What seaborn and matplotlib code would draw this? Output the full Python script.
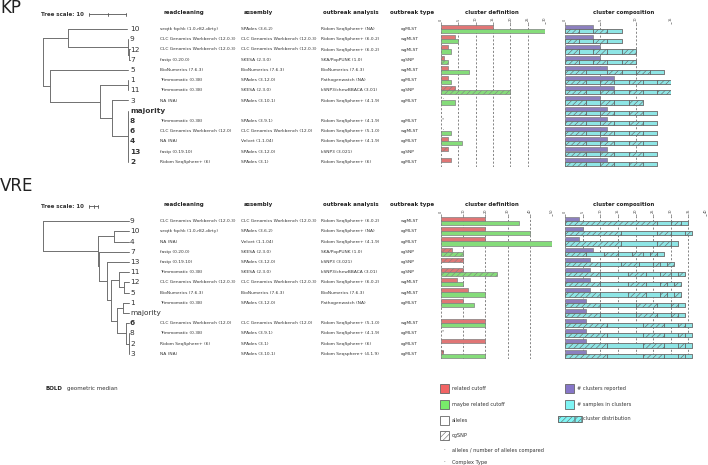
import numpy as np
import pandas as pd
import matplotlib
matplotlib.use("Agg")
import matplotlib.pyplot as plt
from matplotlib.patches import Rectangle
import seaborn as sns

sns.set_style("white")
plt.rcParams["font.family"] = ["DejaVu Sans"]
plt.rcParams["hatch.linewidth"] = 0.4

NaN = np.nan

# ---------------- KP data ----------------
KP_ROWS = ["10", "9", "12", "7", "5", "1", "11", "3", "majority", "8", "6", "4", "13", "2"]
KP_BOLD = ["majority", "8", "6", "4", "13", "2"]
KP_READ = ["seqtk fqchk (1.0-r82-dirty)", "CLC Genomics Workbench (12.0.3)", "CLC Genomics Workbench (12.0.3)",
           "fastp (0.20.0)", "BioNumerics (7.6.3)", "Trimmomatic (0.38)", "Trimmomatic (0.38)", "NA (NA)", "",
           "Trimmomatic (0.38)", "CLC Genomics Workbench (12.0)", "NA (NA)", "fastp (0.19.10)", "Ridom SeqSphere+ (6)"]
KP_ASM = ["SPAdes (3.6.2)", "CLC Genomics Workbench (12.0.3)", "CLC Genomics Workbench (12.0.3)", "SKESA (2.3.0)",
          "BioNumerics (7.6.3)", "SPAdes (3.12.0)", "SKESA (2.3.0)", "SPAdes (3.10.1)", "", "SPAdes (3.9.1)",
          "CLC Genomics Workbench (12.0)", "Velvet (1.1.04)", "SPAdes (3.12.0)", "SPAdes (3.1)"]
KP_ANA = ["Ridom SeqSphere+ (NA)", "Ridom SeqSphere+ (6.0.2)", "Ridom SeqSphere+ (6.0.2)", "SKA/PopPUNK (1.0)",
          "BioNumerics (7.6.3)", "Pathogenwatch (NA)", "kSNP3/chewBBACA (3.01)", "Ridom SeqSphere+ (4.1.9)", "",
          "Ridom SeqSphere+ (4.1.9)", "Ridom SeqSphere+ (5.1.0)", "Ridom SeqSphere+ (4.1.9)", "kSNP3 (3.021)",
          "Ridom SeqSphere+ (6)"]
KP_TYPE = ["cgMLST", "wgMLST", "wgMLST", "cgSNP", "wgMLST", "cgMLST", "cgSNP", "cgMLST", "",
           "cgMLST", "wgMLST", "cgMLST", "cgSNP", "cgMLST"]
KP_RELATED = [15, 4, 2, 1, 2, 2, 4, NaN, NaN, NaN, NaN, 2, 2, 3]
KP_MAYBE = [30, 5, 3, 2, 8, 3, 20, 4, NaN, NaN, 3, 6, NaN, NaN]
KP_MARKS = {"3": "'", "8": "*", "6": "'"}
KP_CLUSTERS = [4, 4, 5, 5, 6, 7, 7, 5, 6, 6, 6, 6, 6, 6]
KP_SAMPLES = [8, 8, 10, 10, 14, 15, 15, 11, 13, 13, 13, 13, 13, 13]
KP_DIST = [[2, 2, 2, 2], [2, 2, 2, 2], [2, 2, 2, 2, 2], [2, 2, 2, 2, 2], [3, 3, 2, 2, 2, 2],
           [3, 2, 2, 2, 2, 2, 2], [3, 2, 2, 2, 2, 2, 2], [3, 2, 2, 2, 2], [3, 2, 2, 2, 2, 2],
           [3, 2, 2, 2, 2, 2], [3, 2, 2, 2, 2, 2], [3, 2, 2, 2, 2, 2], [3, 2, 2, 2, 2, 2], [3, 2, 2, 2, 2, 2]]
# tree: list of (branch length, child); child is a leaf name or another list
KP_TREE = [
    (6.8, [(15.9, "10"), (16.2, [(0.1, "9"), (0.3, [(0.1, "12"), (0.1, "7")])])]),
    (1.9, [(21.1, "5"),
           (13.5, [(7.6, [(0.1, "1"), (0.1, "11")]),
                   (3.2, [(4.3, "3"),
                          (4.3, [(0, "majority"), (0, "8"), (0, "6"), (0, "4"), (0, "13"), (0, "2")])])])]),
]

# ---------------- VRE data ----------------
VRE_ROWS = ["9", "10", "4", "7", "13", "11", "12", "5", "1", "majority", "6", "8", "2", "3"]
VRE_BOLD = ["6"]
VRE_READ = ["CLC Genomics Workbench (12.0.3)", "seqtk fqchk (1.0-r82-dirty)", "NA (NA)", "fastp (0.20.0)",
            "fastp (0.19.10)", "Trimmomatic (0.38)", "CLC Genomics Workbench (12.0.3)", "BioNumerics (7.6.3)",
            "Trimmomatic (0.38)", "", "CLC Genomics Workbench (12.0)", "Trimmomatic (0.38)",
            "Ridom SeqSphere+ (6)", "NA (NA)"]
VRE_ASM = ["CLC Genomics Workbench (12.0.3)", "SPAdes (3.6.2)", "Velvet (1.1.04)", "SKESA (2.3.0)",
           "SPAdes (3.12.0)", "SKESA (2.3.0)", "CLC Genomics Workbench (12.0.3)", "BioNumerics (7.6.3)",
           "SPAdes (3.12.0)", "", "CLC Genomics Workbench (12.0)", "SPAdes (3.9.1)", "SPAdes (3.1)",
           "SPAdes (3.10.1)"]
VRE_ANA = ["Ridom SeqSphere+ (6.0.2)", "Ridom SeqSphere+ (NA)", "Ridom SeqSphere+ (4.1.9)", "SKA/PopPUNK (1.0)",
           "kSNP3 (3.021)", "kSNP3/chewBBACA (3.01)", "Ridom SeqSphere+ (6.0.2)", "BioNumerics (7.6.3)",
           "Pathogenwatch (NA)", "", "Ridom SeqSphere+ (5.1.0)", "Ridom SeqSphere+ (4.1.9)",
           "Ridom SeqSphere+ (6)", "Ridom Seqsphere+ (4.1.9)"]
VRE_TYPE = ["wgMLST", "cgMLST", "cgMLST", "cgSNP", "cgSNP", "cgSNP", "wgMLST", "wgMLST", "cgMLST", "",
            "wgMLST", "cgMLST", "cgMLST", "cgMLST"]
VRE_RELATED = [20, 20, 20, 5, 10, 10, 7, 12, 10, NaN, 20, NaN, 20, 1]
VRE_MAYBE = [35, 40, 50, 10, NaN, 25, 10, 20, 15, NaN, 20, NaN, NaN, 20]
VRE_MARKS = {"8": "*", "3": "*"}
VRE_CLUSTERS = [4, 5, 4, 8, 7, 7, 7, 7, 6, 6, 6, 6, 6, 6]
VRE_SAMPLES = [35, 36, 32, 28, 31, 34, 33, 33, 34, 34, 36, 36, 36, 36]
VRE_DIST = [[26, 4, 3, 2], [16, 10, 4, 4, 2], [16, 10, 4, 2], [6, 5, 4, 4, 3, 2, 2, 2],
            [10, 6, 5, 4, 2, 2, 2], [10, 8, 5, 4, 3, 2, 2], [10, 8, 5, 4, 2, 2, 2], [10, 8, 5, 4, 2, 2, 2],
            [10, 10, 6, 4, 2, 2], [10, 10, 6, 4, 2, 2], [12, 10, 6, 4, 2, 2], [12, 10, 6, 4, 2, 2],
            [12, 10, 6, 4, 2, 2], [12, 10, 6, 4, 2, 2]]
VRE_TREE = [
    (95.6, "9"),
    (61, [(17.8, [(16.7, "10"), (16.7, "4")]),
          (1.1, [(33, "7"),
                 (8.9, [(24.4, "13"),
                        (4.4, [(8.9, [(11, "11"), (5.6, [(5.6, "12"), (5.6, "5")])]),
                               (6.7, [(6.7, [(6.7, "1"), (6.7, "majority")]),
                                      (10, [(3.3, "6"), (3.3, [(0, "8"), (0, "2"), (0, "3")])])])])])])]),
]

RED = "#f26464"
GREEN = "#78ec6a"
PURPLE = "#8676c8"
CYAN = "#7ff4f4"
EDGE = "#808080"
TREE_COL = "#707070"
TXT = "#333333"
HATCH = "//////"

W, H = 708, 465
PITCH = 10.2
fig = plt.figure(figsize=(W / 100, H / 100), dpi=100)
bg = fig.add_axes([0, 0, 1, 1])
bg.set_xlim(0, W)
bg.set_ylim(H, 0)
bg.axis("off")


def panel_axes(x0, x1, top, n):
    h = n * PITCH
    ax = fig.add_axes([x0 / W, 1 - (top + h) / H, (x1 - x0) / W, h / H])
    ax.patch.set_alpha(0)
    return ax


def draw_tree(children, x, leaf_y, scale):
    ys = []
    for length, child in children:
        cx = x + length * scale
        if isinstance(child, str):
            cy = leaf_y[child]
        else:
            cy = draw_tree(child, cx, leaf_y, scale)
        bg.plot([x, cx], [cy, cy], color=TREE_COL, lw=0.7)
        ys.append(cy)
    bg.plot([x, x], [min(ys), max(ys)], color=TREE_COL, lw=0.7)
    return (ys[0] + ys[-1]) / 2


def style_panel(ax, n, xmax, step):
    ax.set_xlim(0, xmax)
    ax.set_ylim(n - 0.5, -0.5)
    ax.set_xticks(np.arange(0, xmax + 0.1, step))
    ax.xaxis.tick_top()
    ax.tick_params(axis="x", labelsize=2.5, rotation=90, length=1.5, width=0.4, pad=0.5, colors="#444")
    ax.set_yticks([])
    ax.set_xlabel("")
    ax.set_ylabel("")
    ax.grid(axis="x", linestyle=(0, (3, 2.5)), color="#555", lw=0.5)
    ax.set_axisbelow(True)
    for s in ax.spines.values():
        s.set_visible(False)


def definition_panel(ax, rows, related, maybe, types, marks, xmax, step):
    n = len(rows)
    df = pd.DataFrame({"row": rows * 2, "value": related + maybe,
                       "kind": ["related"] * n + ["maybe"] * n}).dropna()
    sns.barplot(data=df, x="value", y="row", hue="kind", order=rows, hue_order=["related", "maybe"],
                palette=[RED, GREEN], orient="h", dodge=True, width=0.8, errorbar=None,
                edgecolor=EDGE, linewidth=0.5, legend=False, ax=ax)
    for p in ax.patches:
        idx = int(round(p.get_y() + p.get_height() / 2))
        if types[idx] == "cgSNP":
            p.set_hatch(HATCH)
    for name, m in marks.items():
        ax.text(xmax * 0.012, rows.index(name) - 0.15, m, fontsize=3, va="center", color="#444")
    style_panel(ax, n, xmax, step)


def composition_panel(ax, rows, clusters, samples, dist, xmax, step):
    n = len(rows)
    df = pd.DataFrame({"row": rows * 2, "value": clusters + samples,
                       "kind": ["clusters"] * n + ["samples"] * n})
    sns.barplot(data=df, x="value", y="row", hue="kind", order=rows, hue_order=["clusters", "samples"],
                palette=[PURPLE, CYAN], orient="h", dodge=True, width=0.8, errorbar=None,
                edgecolor=EDGE, linewidth=0.5, legend=False, ax=ax)
    for i, sizes in enumerate(dist):
        left = np.concatenate([[0], np.cumsum(sizes)[:-1]])
        for k, (w, l) in enumerate(zip(sizes, left)):
            ax.barh(i + 0.2, w, left=l, height=0.4, facecolor="none", edgecolor="#606060", lw=0.4,
                    hatch=HATCH if k % 2 == 0 else None)
    style_panel(ax, n, xmax, step)


def section(title, ty, y0, rows, bold, read, asm, ana, types, related, maybe, marks,
            clusters, samples, dist, tree, tree_scale, def_range, comp_range):
    hy = y0 - 16.5
    bg.text(0, ty, title, fontsize=12, va="center", ha="left", color="#222")
    bg.text(41, hy + 1.5, "Tree scale: 10", fontsize=4, fontweight="bold", va="center", color="#333")
    sx0, sx1 = 89, 89 + 10 * tree_scale
    bg.plot([sx0, sx1], [hy + 1.5] * 2, color="#555", lw=0.6)
    for xx in (sx0, (sx0 + sx1) / 2, sx1):
        bg.plot([xx, xx], [hy, hy + 3], color="#555", lw=0.6)
    for x, lab in [(164, "readcleaning"), (244, "assembly"), (323, "outbreak analysis"),
                   (390, "outbreak type")]:
        bg.text(x, hy, lab, fontsize=4, fontweight="bold", va="center", color="#222")
    bg.text(492, hy, "cluster definition", fontsize=4, fontweight="bold", va="center", ha="center", color="#222")
    bg.text(624, hy, "cluster composition", fontsize=4, fontweight="bold", va="center", ha="center", color="#222")

    leaf_y = {}
    for i, name in enumerate(rows):
        y = y0 + i * PITCH
        leaf_y[name] = y
        bg.text(130, y, name, fontsize=5.3, va="center", color="#333",
                fontweight="bold" if name in bold else "normal")
        for x, col in [(160, read), (241, asm), (321, ana), (401, types)]:
            bg.text(x, y, col[i], fontsize=3.2, va="center", color=TXT)
    draw_tree(tree, 43, leaf_y, tree_scale)

    top = y0 - PITCH / 2
    ax_d = panel_axes(def_range[0], def_range[1], top, len(rows))
    definition_panel(ax_d, rows, related, maybe, types, marks, def_range[2], def_range[3])
    ax_c = panel_axes(comp_range[0], comp_range[1], top, len(rows))
    composition_panel(ax_c, rows, clusters, samples, dist, comp_range[2], comp_range[3])


section("KP", 8, 29.1, KP_ROWS, KP_BOLD, KP_READ, KP_ASM, KP_ANA, KP_TYPE, KP_RELATED, KP_MAYBE, KP_MARKS,
        KP_CLUSTERS, KP_SAMPLES, KP_DIST, KP_TREE, 3.7, (441, 545, 30, 5), (565, 671, 15, 5))
section("VRE", 186, 221.1, VRE_ROWS, VRE_BOLD, VRE_READ, VRE_ASM, VRE_ANA, VRE_TYPE, VRE_RELATED, VRE_MAYBE,
        VRE_MARKS, VRE_CLUSTERS, VRE_SAMPLES, VRE_DIST, VRE_TREE, 0.9, (441, 552, 50, 10), (565, 706, 40, 5))

# ---------------- legend ----------------
bg.text(45, 388, "BOLD", fontsize=4, fontweight="bold", va="center", color="#222")
bg.text(67, 388, "geometric median", fontsize=4, va="center", color="#333")

for y, fc, hatch, lab in [(388, RED, None, "related cutoff"), (404, GREEN, None, "maybe related cutoff"),
                          (420, "white", None, "alleles"), (435, "white", HATCH, "cgSNP")]:
    bg.add_patch(Rectangle((440, y - 4.5), 9, 9, facecolor=fc, edgecolor="#666", lw=0.6, hatch=hatch))
    bg.text(452, y, lab, fontsize=3.6, va="center", color="#333")
for y, lab in [(450, "alleles / number of alleles compared"), (462, "Complex Type")]:
    bg.text(443, y, "·", fontsize=4, va="center", color="#333")
    bg.text(452, y, lab, fontsize=3.6, va="center", color="#333")

for y, fc, lab in [(388, PURPLE, "# clusters reported"), (404, CYAN, "# samples in clusters")]:
    bg.add_patch(Rectangle((565, y - 4.5), 9, 9, facecolor=fc, edgecolor="#666", lw=0.6))
    bg.text(577, y, lab, fontsize=3.6, va="center", color="#333")
bg.add_patch(Rectangle((558, 415.5), 24, 6, facecolor=CYAN, edgecolor="#666", lw=0.6))
bg.add_patch(Rectangle((558, 415.5), 16, 6, facecolor="none", edgecolor="#666", lw=0.4, hatch=HATCH))
bg.add_patch(Rectangle((575, 415.5), 6, 6, facecolor="none", edgecolor="#666", lw=0.4, hatch=HATCH))
bg.text(583, 418.5, "cluster distribution", fontsize=3.6, va="center", color="#333")

fig.savefig("out.png", dpi=100)
